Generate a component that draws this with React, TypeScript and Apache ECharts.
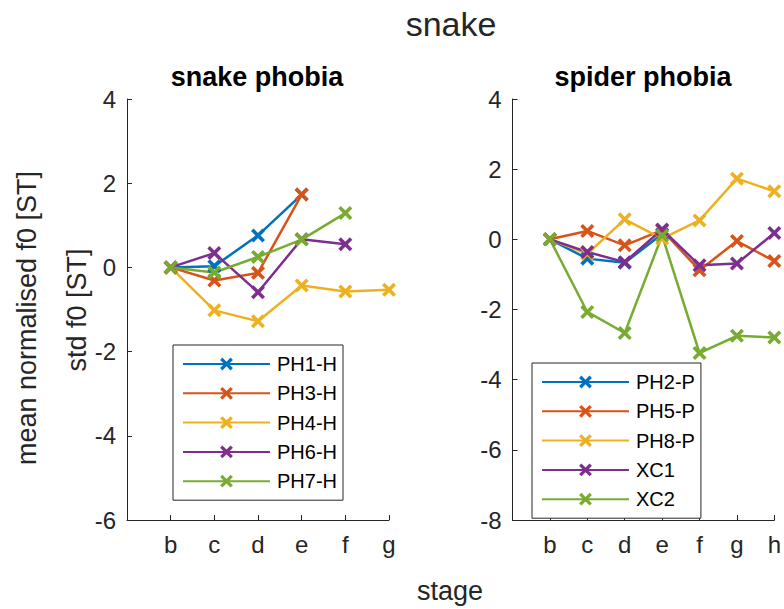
import React, { useEffect, useRef } from "react";
import * as echarts from "echarts";

// Stage tick labels (position 0 = unlabelled axis origin "a")
const stagesLeft = ["", "b", "c", "d", "e", "f", "g"];
const stagesRight = ["", "b", "c", "d", "e", "f", "g", "h"];

// Snake phobia group (values start at stage b)
const namesLeft = ["PH1-H", "PH3-H", "PH4-H", "PH6-H", "PH7-H"];
const ph1H = [0, 0.03, 0.76, 1.73];
const ph3H = [0, -0.31, -0.13, 1.73];
const ph4H = [0, -1.02, -1.28, -0.43, -0.57, -0.53];
const ph6H = [0, 0.34, -0.59, 0.67, 0.55];
const ph7H = [0, -0.12, 0.25, 0.66, 1.29];
const valuesLeft = [ph1H, ph3H, ph4H, ph6H, ph7H];

// Spider phobia group
const namesRight = ["PH2-P", "PH5-P", "PH8-P", "XC1", "XC2"];
const ph2P = [0, -0.55, -0.67, 0.15];
const ph5P = [0, 0.24, -0.17, 0.26, -0.88, -0.05, -0.62];
const ph8P = [0, -0.41, 0.57, 0.02, 0.54, 1.73, 1.37];
const xc1 = [0, -0.36, -0.65, 0.28, -0.74, -0.69, 0.18];
const xc2 = [0, -2.07, -2.67, 0.11, -3.24, -2.75, -2.8];
const valuesRight = [ph2P, ph5P, ph8P, xc1, xc2];

const colors = ["#0072BD", "#D95319", "#EDB120", "#7E2F8E", "#77AC30"];

const X_SYMBOL =
  "path://M0,1.8L1.8,0L5,3.2L8.2,0L10,1.8L6.8,5L10,8.2L8.2,10L5,6.8L1.8,10L0,8.2L3.2,5Z";

const FONT = "'Liberation Sans', Arial, Helvetica, sans-serif";
const TXT = "#262626";

function makeSeries(names: string[], vals: number[][], idx: number) {
  return names.map((n, i) => ({
    name: n,
    type: "line",
    xAxisIndex: idx,
    yAxisIndex: idx,
    data: vals[i].map((v, j) => [j + 1, v]),
    symbol: X_SYMBOL,
    symbolSize: 14,
    showSymbol: true,
    lineStyle: { width: 2.5, color: colors[i] },
    itemStyle: { color: colors[i] },
    color: colors[i],
    emphasis: { disabled: true },
  }));
}

function xAxisCfg(grid: number, labels: string[]) {
  return {
    type: "value",
    gridIndex: grid,
    min: 0,
    max: labels.length - 1,
    interval: 1,
    axisLine: { onZero: false, lineStyle: { color: TXT, width: 1 } },
    axisTick: { inside: true, length: 5, lineStyle: { color: TXT } },
    axisLabel: {
      margin: 12,
      color: TXT,
      fontSize: 24,
      fontFamily: FONT,
      formatter: (v: number) => labels[v] ?? "",
    },
    splitLine: { show: false },
  };
}

function yAxisCfg(grid: number, min: number) {
  return {
    type: "value",
    gridIndex: grid,
    min,
    max: 4,
    interval: 2,
    axisLine: { show: true, onZero: false, lineStyle: { color: TXT, width: 1 } },
    axisTick: { show: true, inside: true, length: 5, lineStyle: { color: TXT } },
    axisLabel: { margin: 11, color: TXT, fontSize: 24, fontFamily: FONT },
    splitLine: { show: false },
  };
}

function legendCfg(names: string[], left: number, top: number) {
  return {
    data: names,
    orient: "vertical",
    left,
    top,
    padding: [9, 6, 9, 9],
    itemWidth: 87,
    itemHeight: 16,
    itemGap: 9.3,
    borderColor: TXT,
    borderWidth: 1,
    backgroundColor: "#fff",
    selectedMode: false,
    textStyle: { fontSize: 20, color: "#000", fontFamily: FONT, padding: [0, 0, 0, 2] },
  };
}

export default function App() {
  const ref = useRef<HTMLDivElement>(null);
  useEffect(() => {
    if (!ref.current) return;
    const chart = echarts.init(ref.current, null, { renderer: "svg" });
    chart.setOption({
      animation: false,
      backgroundColor: "#fff",
      textStyle: { fontFamily: FONT },
      grid: [
        { left: 127, top: 99, width: 262, height: 421 },
        { left: 512.5, top: 99, width: 262.5, height: 421 },
      ],
      xAxis: [xAxisCfg(0, stagesLeft), xAxisCfg(1, stagesRight)],
      yAxis: [yAxisCfg(0, -6), yAxisCfg(1, -8)],
      legend: [legendCfg(namesLeft, 173, 345), legendCfg(namesRight, 532, 363)],
      series: [...makeSeries(namesLeft, valuesLeft, 0), ...makeSeries(namesRight, valuesRight, 1)],
      graphic: [
        {
          type: "text",
          x: 451,
          y: 24,
          style: { text: "snake", fontSize: 34, fill: TXT, fontFamily: FONT, align: "center", verticalAlign: "middle" },
        },
        {
          type: "text",
          x: 257,
          y: 77,
          style: { text: "snake phobia", fontSize: 27, fontWeight: "bold", fill: "#000", fontFamily: FONT, align: "center", verticalAlign: "middle" },
        },
        {
          type: "text",
          x: 643,
          y: 77,
          style: { text: "spider phobia", fontSize: 27, fontWeight: "bold", fill: "#000", fontFamily: FONT, align: "center", verticalAlign: "middle" },
        },
        {
          type: "text",
          x: 27,
          y: 318,
          rotation: Math.PI / 2,
          style: { text: "mean normalised f0 [ST]", fontSize: 27, fill: TXT, fontFamily: FONT, align: "center", verticalAlign: "middle" },
        },
        {
          type: "text",
          x: 77,
          y: 310,
          rotation: Math.PI / 2,
          style: { text: "std f0 [ST]", fontSize: 27, fill: TXT, fontFamily: FONT, align: "center", verticalAlign: "middle" },
        },
        {
          type: "text",
          x: 450,
          y: 591,
          style: { text: "stage", fontSize: 27, fill: TXT, fontFamily: FONT, align: "center", verticalAlign: "middle" },
        },
      ],
    });
    return () => chart.dispose();
  }, []);
  return <div ref={ref} style={{ position: "absolute", left: 0, top: 0, width: 784, height: 609 }} />;
}
